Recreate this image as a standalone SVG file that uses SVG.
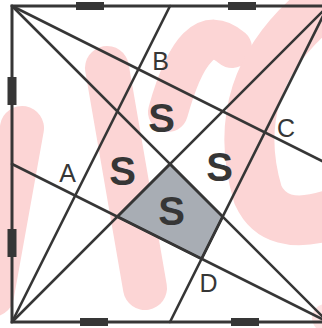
<svg xmlns="http://www.w3.org/2000/svg" width="322" height="328" viewBox="0 0 322 328">
<style>
.wm{fill:none;stroke:#fcd5d5;stroke-linecap:round;stroke-linejoin:round}
.ln{stroke:#363636;stroke-width:2.6;fill:none;stroke-linecap:round}
.tk{fill:#363636}
.lb{font-family:"Liberation Sans",Arial,sans-serif;font-size:25px;fill:#363636;text-anchor:middle}
.s{font-family:"Liberation Sans",Arial,sans-serif;font-size:40px;font-weight:bold;fill:#363636;text-anchor:middle}
</style>
<rect width="322" height="328" fill="#ffffff"/>
<g id="watermark">
<path class="wm" stroke-width="44" d="M -8 295 L 22 128"/>
<path class="wm" stroke-width="44" d="M 107 68 L 145 288"/>
<path class="wm" stroke-width="40" d="M 168 112 Q 195 15 232 48"/>
<path class="wm" stroke-width="50" d="M 318 8 Q 225 85 258 195 Q 275 232 330 215"/>
<circle cx="326" cy="318" r="14" fill="#fde3e3"/>
</g>
<g id="shaded-region">
<polygon points="170,164 117.3,216.7 201.6,258.8 222.7,216.7" fill="#a8adb4" stroke="#363636" stroke-width="2.6" stroke-linejoin="round"/>
</g>
<g id="connectors">
<line class="ln" x1="12" y1="6" x2="328" y2="322"/>
<line class="ln" x1="328" y1="6" x2="12" y2="322"/>
<line class="ln" x1="12" y1="6" x2="328" y2="164"/>
<line class="ln" x1="328" y1="6" x2="170" y2="322"/>
<line class="ln" x1="328" y1="322" x2="12" y2="164"/>
<line class="ln" x1="12" y1="322" x2="170" y2="6"/>
</g>
<g id="square">
<rect x="12" y="6" width="316" height="316" fill="none" stroke="#363636" stroke-width="3"/>
<rect class="tk" x="76" y="2" width="28" height="8"/>
<rect class="tk" x="228" y="2" width="28" height="8"/>
<rect class="tk" x="80" y="318" width="28" height="8"/>
<rect class="tk" x="231" y="318" width="28" height="8"/>
<rect class="tk" x="7.5" y="77" width="9" height="28"/>
<rect class="tk" x="7.5" y="229" width="9" height="28"/>
</g>
<g id="labels">
<text class="lb" x="160.5" y="70">B</text>
<text class="lb" x="286" y="137">C</text>
<text class="lb" x="67.5" y="182">A</text>
<text class="lb" x="208.5" y="292">D</text>
<text class="s" x="161.5" y="132">S</text>
<text class="s" x="122.5" y="185">S</text>
<text class="s" x="219.5" y="181">S</text>
<text class="s" x="171.5" y="225">S</text>
</g>
</svg>
